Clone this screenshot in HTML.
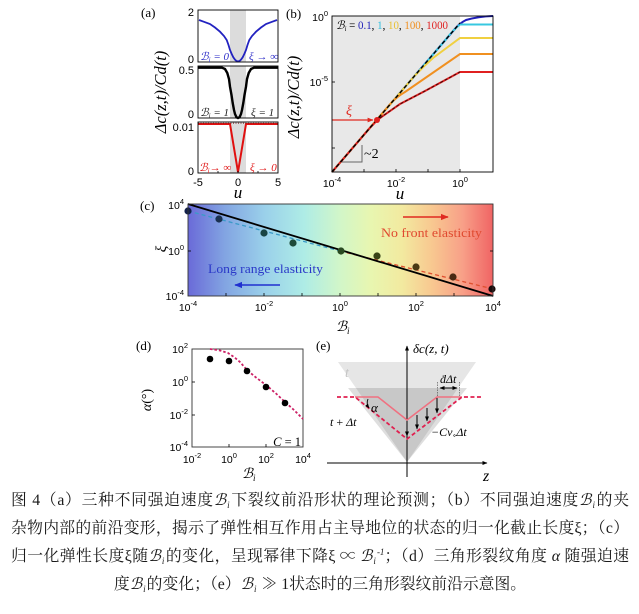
<!DOCTYPE html>
<html><head><meta charset="utf-8">
<style>
html,body{margin:0;padding:0;background:#fff;}
body{width:639px;height:614px;position:relative;overflow:hidden;}
.cap{position:absolute;left:11px;width:618px;font-family:"Liberation Serif","Noto Serif CJK SC",serif;font-size:15.8px;line-height:20px;height:20px;color:#1a1a1a;white-space:nowrap;text-align:justify;text-align-last:justify;}
.cap.c{text-align:center;text-align-last:center;}
.b{font-family:"Liberation Serif","DejaVu Serif",serif;font-style:italic;}
.b sub{font-size:9px;vertical-align:-3px;line-height:0;margin-left:1px;margin-right:1px;}
.b sup{font-size:9px;vertical-align:6px;line-height:0;}
</style></head><body>
<svg width="639" height="614" viewBox="0 0 639 614" style="position:absolute;left:0;top:0" xmlns="http://www.w3.org/2000/svg">
<defs>
<linearGradient id="g" x1="0" x2="1" y1="0" y2="0">
<stop offset="0" stop-color="#6a6ad8"/>
<stop offset="0.12" stop-color="#82a4e2"/>
<stop offset="0.25" stop-color="#9ad0ea"/>
<stop offset="0.38" stop-color="#aeece6"/>
<stop offset="0.5" stop-color="#d2f6c8"/>
<stop offset="0.6" stop-color="#e8f6b0"/>
<stop offset="0.7" stop-color="#f2eaa0"/>
<stop offset="0.8" stop-color="#f8c890"/>
<stop offset="0.9" stop-color="#f8a088"/>
<stop offset="1" stop-color="#f06464"/>
</linearGradient>
<marker id="mk" viewBox="0 0 10 10" refX="9" refY="5" markerWidth="5" markerHeight="5" orient="auto-start-reverse"><path d="M0,1 L10,5 L0,9 z" fill="#000"/></marker>
<marker id="mr" viewBox="0 0 10 10" refX="9" refY="5" markerWidth="5" markerHeight="5" orient="auto"><path d="M0,1 L10,5 L0,9 z" fill="#e02a20"/></marker>
<marker id="mb" viewBox="0 0 10 10" refX="9" refY="5" markerWidth="5" markerHeight="5" orient="auto"><path d="M0,1 L10,5 L0,9 z" fill="#2030d0"/></marker>
</defs>

<!-- ===== Panel (a) ===== -->
<g>
<text x="141" y="17" font-family="Liberation Serif,serif" font-size="13">(a)</text>
<rect x="230" y="10" width="16" height="52" fill="#dcdcdc"/>
<rect x="230" y="66" width="16" height="52" fill="#dcdcdc"/>
<rect x="230" y="122" width="16" height="51" fill="#dcdcdc"/>
<path d="M199,20 L204,21.8 L210,24 L215,27.5 L220,31.7 L224,36 L226.7,40 L228.5,45 L230,50 L231.7,54 L233.3,57.3 L235,59.6 L236.5,61 L238,61.5 L239.5,61 L241,59.6 L242.7,57.3 L244.3,54 L246,50 L247.5,45 L249.3,40 L252,36 L256,31.7 L261,27.5 L266,24 L272,21.8 L277,20" fill="none" stroke="#2222c0" stroke-width="1.8"/>
<path d="M198,67.7 L222,67.7 L225,69 L227.3,73 L229,79 L230,86.7 L231.5,95 L232.7,103 L234,110 L235,114 L236.5,117.3 L238,118 L239.5,117.3 L241,114 L242,110 L243.3,103 L244.5,95 L246,86.7 L247,79 L248.7,73 L251,69 L254,67.7 L278,67.7" fill="none" stroke="#000" stroke-width="2.4"/>
<path d="M198,124 L230,124 L238,172 L246,124 L278,124" fill="none" stroke="#e01010" stroke-width="2"/>
<line x1="198" y1="123.2" x2="278" y2="123.2" stroke="#7a1a1a" stroke-width="0.9" stroke-dasharray="1,1.5"/>
<rect x="198" y="10" width="80" height="52" fill="none" stroke="#000" stroke-width="0.9"/>
<rect x="198" y="66" width="80" height="52" fill="none" stroke="#000" stroke-width="0.9"/>
<rect x="198" y="122" width="80" height="51" fill="none" stroke="#000" stroke-width="0.9"/>
<g stroke="#000" stroke-width="0.8">
<line x1="218" y1="173" x2="218" y2="171"/><line x1="238" y1="173" x2="238" y2="171"/><line x1="258" y1="173" x2="258" y2="171"/>
</g>
<g font-family="Liberation Sans,Arial,sans-serif" font-size="11" fill="#000">
<text x="194" y="16" text-anchor="end">2</text>
<text x="194" y="63" text-anchor="end">0</text>
<text x="194" y="74" text-anchor="end">0.5</text>
<text x="194" y="118" text-anchor="end">0</text>
<text x="194" y="131" text-anchor="end">0.01</text>
<text x="194" y="175" text-anchor="end">0</text>
<text x="198" y="186" text-anchor="middle">-5</text>
<text x="238" y="186" text-anchor="middle">0</text>
<text x="278" y="186" text-anchor="middle">5</text>
</g>
<g font-family="Liberation Serif,DejaVu Serif,serif" font-style="italic" font-size="11">
<text x="200" y="60" fill="#3030c8">ℬ<tspan font-size="7" dy="2">i</tspan><tspan dy="-2"> = 0</tspan></text>
<text x="249" y="60" fill="#3030c8">ξ → ∞</text>
<text x="200" y="116" fill="#222">ℬ<tspan font-size="7" dy="2">i</tspan><tspan dy="-2"> = 1</tspan></text>
<text x="251" y="116" fill="#222">ξ = 1</text>
<text x="199" y="171" fill="#e01818">ℬ<tspan font-size="7" dy="2">i</tspan><tspan dy="-2">→ ∞</tspan></text>
<text x="250" y="171" fill="#e01818">ξ → 0</text>
</g>
<text transform="translate(166,92) rotate(-90)" text-anchor="middle" font-family="Liberation Serif,serif" font-style="italic" font-size="16.5">Δc(z,t)/Cd(t)</text>
<text x="238" y="198" text-anchor="middle" font-family="Liberation Serif,serif" font-style="italic" font-size="17">u</text>
</g>

<!-- ===== Panel (b) ===== -->
<g>
<text x="286" y="18" font-family="Liberation Serif,serif" font-size="13">(b)</text>
<rect x="332" y="16" width="128" height="156" fill="#e8e8e8"/>
<path d="M332,172 L455,28.8 Q460,23 466,20 Q478,16.5 493,16" fill="none" stroke="#2020b8" stroke-width="2"/>
<path d="M332,172 L445,40.5 Q453,30 460,24.5 L493,24.5" fill="none" stroke="#38c8e0" stroke-width="2"/>
<path d="M332,172 L415,75.4 Q424,66 433,58 L460,38 L493,38" fill="none" stroke="#f0d040" stroke-width="2"/>
<path d="M332,172 L392,102 Q398,96 405,92 L460,54 L493,54" fill="none" stroke="#f09020" stroke-width="2"/>
<path d="M332,172 L366,132.4 Q373,124 380,118 L400,104 L425,91 L460,72 L493,72" fill="none" stroke="#e02020" stroke-width="2"/>
<path d="M380,118 L400,104 L425,91 L460,72" fill="none" stroke="#000" stroke-width="0.9" stroke-dasharray="3,2" stroke-opacity="0.8"/>
<line x1="332" y1="172" x2="460" y2="23" stroke="#000" stroke-width="1.4" stroke-dasharray="4,2.5"/>
<line x1="332" y1="120" x2="373" y2="120" stroke="#e02a20" stroke-width="1.2" marker-end="url(#mr)"/>
<circle cx="377" cy="120" r="3" fill="#e02020"/>
<text x="346" y="115" font-family="Liberation Serif,serif" font-style="italic" font-size="14" fill="#e02a20">ξ</text>
<polyline points="342,162 362,162 362,145" fill="none" stroke="#666" stroke-width="1"/>
<text x="364" y="158" font-family="Liberation Serif,serif" font-size="14">~2</text>
<rect x="332" y="16" width="161" height="156" fill="none" stroke="#000" stroke-width="0.9"/>
<g stroke="#000" stroke-width="0.8">
<line x1="364" y1="172" x2="364" y2="169"/><line x1="396" y1="172" x2="396" y2="169"/><line x1="428" y1="172" x2="428" y2="169"/><line x1="460" y1="172" x2="460" y2="169"/>
<line x1="332" y1="82" x2="335" y2="82"/><line x1="332" y1="148" x2="335" y2="148"/>
</g>
<text x="336" y="29" font-family="Liberation Serif,DejaVu Serif,serif" font-style="italic" font-size="11.5" textLength="112" lengthAdjust="spacingAndGlyphs">ℬ<tspan font-size="7" dy="2">i</tspan><tspan dy="-2" font-style="normal"> = </tspan><tspan fill="#2020b8" font-style="normal">0.1</tspan><tspan font-style="normal">, </tspan><tspan fill="#30c0e0" font-style="normal">1</tspan><tspan font-style="normal">, </tspan><tspan fill="#e8c030" font-style="normal">10</tspan><tspan font-style="normal">, </tspan><tspan fill="#f09020" font-style="normal">100</tspan><tspan font-style="normal">, </tspan><tspan fill="#e02020" font-style="normal">1000</tspan></text>
<g font-family="Liberation Sans,Arial,sans-serif" font-size="10.5">
<text x="328" y="21" text-anchor="end">10<tspan font-size="7.5" dy="-5">0</tspan></text>
<text x="328" y="86" text-anchor="end">10<tspan font-size="7.5" dy="-5">-5</tspan></text>
<text x="332" y="187" text-anchor="middle">10<tspan font-size="7.5" dy="-5">-4</tspan></text>
<text x="396" y="187" text-anchor="middle">10<tspan font-size="7.5" dy="-5">-2</tspan></text>
<text x="460" y="187" text-anchor="middle">10<tspan font-size="7.5" dy="-5">0</tspan></text>
</g>
<text transform="translate(299,97) rotate(-90)" text-anchor="middle" font-family="Liberation Serif,serif" font-style="italic" font-size="16.5">Δc(z,t)/Cd(t)</text>
<text x="400" y="199" text-anchor="middle" font-family="Liberation Serif,serif" font-style="italic" font-size="17">u</text>
</g>

<!-- ===== Panel (c) ===== -->
<g>
<text x="140" y="210" font-family="Liberation Serif,serif" font-size="13">(c)</text>
<rect x="188" y="204" width="305" height="92" fill="url(#g)"/>
<line x1="188" y1="211" x2="340" y2="251" stroke="#3a9ac8" stroke-width="1.3" stroke-dasharray="4,3"/>
<line x1="340" y1="251" x2="493" y2="289" stroke="#e05030" stroke-width="1.3" stroke-dasharray="4,3"/>
<line x1="188" y1="204" x2="493" y2="296" stroke="#000" stroke-width="1.8"/>
<circle cx="188" cy="211" r="3.6" fill="#13204a"/>
<circle cx="219" cy="219" r="3.6" fill="#1a3050"/>
<circle cx="264" cy="233" r="3.6" fill="#1a4444"/>
<circle cx="293" cy="243" r="3.6" fill="#1e4a3a"/>
<circle cx="341" cy="251" r="3.6" fill="#2a4a22"/>
<circle cx="377" cy="256" r="3.6" fill="#3a4418"/>
<circle cx="416" cy="267" r="3.6" fill="#4a3a14"/>
<circle cx="453" cy="277" r="3.6" fill="#4a2a14"/>
<circle cx="492" cy="289" r="3.6" fill="#1a0a0a"/>
<line x1="403" y1="217" x2="448" y2="217" stroke="#e02a20" stroke-width="1.6" marker-end="url(#mr)"/>
<text x="381" y="237" font-family="Liberation Serif,serif" font-size="13" fill="#e04a30" textLength="101" lengthAdjust="spacingAndGlyphs">No front elasticity</text>
<text x="208" y="273" font-family="Liberation Serif,serif" font-size="13" fill="#2a38c8" textLength="115" lengthAdjust="spacingAndGlyphs">Long range elasticity</text>
<line x1="280" y1="285" x2="235" y2="285" stroke="#2030d0" stroke-width="1.6" marker-end="url(#mb)"/>
<rect x="188" y="204" width="305" height="92" fill="none" stroke="#333" stroke-width="0.9"/>
<g stroke="#000" stroke-width="0.8">
<line x1="226" y1="296" x2="226" y2="293"/><line x1="264" y1="296" x2="264" y2="293"/><line x1="302" y1="296" x2="302" y2="293"/><line x1="340" y1="296" x2="340" y2="293"/><line x1="378" y1="296" x2="378" y2="293"/><line x1="416" y1="296" x2="416" y2="293"/><line x1="454" y1="296" x2="454" y2="293"/>
<line x1="188" y1="251" x2="191" y2="251"/><line x1="493" y1="251" x2="490" y2="251"/>
</g>
<g font-family="Liberation Sans,Arial,sans-serif" font-size="10.5">
<text x="184" y="209" text-anchor="end">10<tspan font-size="7.5" dy="-5">4</tspan></text>
<text x="184" y="255" text-anchor="end">10<tspan font-size="7.5" dy="-5">0</tspan></text>
<text x="184" y="300" text-anchor="end">10<tspan font-size="7.5" dy="-5">-4</tspan></text>
<text x="188" y="311" text-anchor="middle">10<tspan font-size="7.5" dy="-5">-4</tspan></text>
<text x="264" y="311" text-anchor="middle">10<tspan font-size="7.5" dy="-5">-2</tspan></text>
<text x="340" y="311" text-anchor="middle">10<tspan font-size="7.5" dy="-5">0</tspan></text>
<text x="416" y="311" text-anchor="middle">10<tspan font-size="7.5" dy="-5">2</tspan></text>
<text x="493" y="311" text-anchor="middle">10<tspan font-size="7.5" dy="-5">4</tspan></text>
</g>
<text x="336" y="331" font-family="Liberation Serif,DejaVu Serif,serif" font-style="italic" font-size="14">ℬ<tspan font-size="9" dy="3">i</tspan></text>
<text transform="translate(166,249) rotate(-90)" text-anchor="middle" font-family="Liberation Serif,serif" font-style="italic" font-size="15">ξ</text>
</g>

<!-- ===== Panel (d) ===== -->
<g>
<text x="136" y="350" font-family="Liberation Serif,serif" font-size="13">(d)</text>
<rect x="192" y="349" width="111" height="98" fill="#fff" stroke="#333" stroke-width="0.9"/>
<path d="M210,349 L220,350.5 L228,353 L234,357 L240,362 L247,370 L256,377.5 L266,385 L276,393.5 L285,402 L294,410 L303,419" fill="none" stroke="#cc2266" stroke-width="1.8" stroke-dasharray="2.5,2"/>
<circle cx="210" cy="359" r="3.3" fill="#000"/>
<circle cx="229" cy="361" r="3.3" fill="#000"/>
<circle cx="247" cy="371" r="3.3" fill="#000"/>
<circle cx="266" cy="387" r="3.3" fill="#000"/>
<circle cx="285" cy="403" r="3.3" fill="#000"/>
<text x="301" y="446" text-anchor="end" font-family="Liberation Serif,serif" font-style="italic" font-size="12.5">C<tspan font-style="normal"> = 1</tspan></text>
<g stroke="#000" stroke-width="0.8">
<line x1="229" y1="447" x2="229" y2="444"/><line x1="266" y1="447" x2="266" y2="444"/>
<line x1="192" y1="382" x2="195" y2="382"/><line x1="192" y1="415" x2="195" y2="415"/>
</g>
<g font-family="Liberation Sans,Arial,sans-serif" font-size="10.5">
<text x="188" y="353" text-anchor="end">10<tspan font-size="7.5" dy="-5">2</tspan></text>
<text x="188" y="386" text-anchor="end">10<tspan font-size="7.5" dy="-5">0</tspan></text>
<text x="188" y="419" text-anchor="end">10<tspan font-size="7.5" dy="-5">-2</tspan></text>
<text x="188" y="451" text-anchor="end">10<tspan font-size="7.5" dy="-5">-4</tspan></text>
<text x="192" y="463" text-anchor="middle">10<tspan font-size="7.5" dy="-5">-2</tspan></text>
<text x="229" y="463" text-anchor="middle">10<tspan font-size="7.5" dy="-5">0</tspan></text>
<text x="266" y="463" text-anchor="middle">10<tspan font-size="7.5" dy="-5">2</tspan></text>
<text x="303" y="463" text-anchor="middle">10<tspan font-size="7.5" dy="-5">4</tspan></text>
</g>
<text x="242" y="478" font-family="Liberation Serif,DejaVu Serif,serif" font-style="italic" font-size="14">ℬ<tspan font-size="9" dy="3">i</tspan></text>
<text transform="translate(151,400) rotate(-90)" text-anchor="middle" font-family="Liberation Serif,serif" font-style="italic" font-size="14">α<tspan font-style="normal">(°)</tspan></text>
</g>

<!-- ===== Panel (e) ===== -->
<g>
<text x="316" y="350" font-family="Liberation Serif,serif" font-size="13">(e)</text>
<polygon points="338,362 476,362 407,462" fill="#e6e6e6"/>
<polygon points="348,388 467,388 407,462" fill="#000" fill-opacity="0.13"/>
<line x1="407" y1="477" x2="407" y2="346" stroke="#000" stroke-width="1" marker-end="url(#mk)"/>
<line x1="327" y1="463" x2="487" y2="463" stroke="#000" stroke-width="1" marker-end="url(#mk)"/>
<path d="M355,397 L378,397 L407,420 L437,397 L462,397" fill="none" stroke="#f07080" stroke-width="1.5"/>
<path d="M337,397 L355,397 L407,439 L462,397 L482,397" fill="none" stroke="#e02050" stroke-width="1.8" stroke-dasharray="4,2.5"/>
<g stroke="#000" stroke-width="1">
<line x1="407" y1="422" x2="407" y2="436" marker-end="url(#mk)"/>
<line x1="417" y1="415" x2="417" y2="429" marker-end="url(#mk)"/>
<line x1="427" y1="408" x2="427" y2="421" marker-end="url(#mk)"/>
<line x1="437" y1="398" x2="437" y2="413" marker-end="url(#mk)"/>
<line x1="440" y1="388" x2="457" y2="388" marker-start="url(#mk)" marker-end="url(#mk)"/>
</g>
<g stroke="#444" stroke-width="0.6" stroke-dasharray="1.5,1">
<line x1="437.5" y1="382" x2="437.5" y2="397"/>
<line x1="459.5" y1="382" x2="459.5" y2="397"/>
</g>
<path d="M368,399 Q366,404 369,408" fill="none" stroke="#000" stroke-width="0.9" marker-end="url(#mk)"/>
<g font-family="Liberation Serif,DejaVu Serif,serif" font-style="italic">
<text x="413" y="353" font-size="13">δc(z, t)</text>
<text x="483" y="481" font-size="16">z</text>
<text x="345" y="377" font-size="14" fill="#c4c4c4">t</text>
<text x="440" y="383" font-size="12">ḋΔt</text>
<text x="371" y="412" font-size="13">α</text>
<text x="330" y="426" font-size="12">t<tspan font-style="normal"> + </tspan>Δt</text>
<text x="431" y="436" font-size="12">−Cv<tspan font-size="8" dy="2" font-style="normal">∘</tspan><tspan dy="-2">Δt</tspan></text>
</g>
</g>
</svg>

<div class="cap" style="top:491px">图 4（a）三种不同强迫速度<span class="b">ℬ<sub>i</sub></span>下裂纹前沿形状的理论预测；（b）不同强迫速度<span class="b">ℬ<sub>i</sub></span>的夹</div>
<div class="cap" style="top:519px">杂物内部的前沿变形，揭示了弹性相互作用占主导地位的状态的归一化截止长度ξ；（c）</div>
<div class="cap" style="top:547px">归一化弹性长度ξ随<span class="b">ℬ<sub>i</sub></span>的变化，呈现幂律下降ξ ∝ <span class="b">ℬ<sub>i</sub><sup>-1</sup></span>；（d）三角形裂纹角度 <i>α</i> 随强迫速</div>
<div class="cap c" style="top:575px">度<span class="b">ℬ<sub>i</sub></span>的变化；（e）<span class="b">ℬ<sub>i</sub></span> ≫ 1状态时的三角形裂纹前沿示意图。</div>
</body></html>
